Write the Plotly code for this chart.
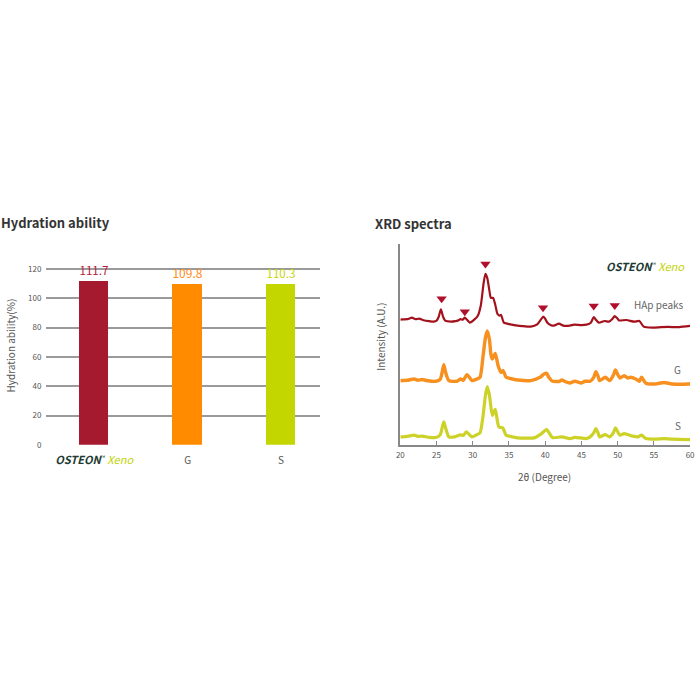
import plotly.graph_objects as go

# ---------------- Data ----------------
# Hydration ability
bar_categories = ["OSTEON Xeno", "G", "S"]
hydration_values = [111.7, 109.8, 110.3]
hydration_labels = ["111.7", "109.8", "110.3"]

# XRD spectra: 2-theta (degrees) and relative intensity (A.U.)
hap_theta = [20.0, 20.3, 21.0, 21.6, 22.1, 22.6, 23.2, 24.0, 24.6, 25.0,
             25.3, 25.6, 25.9, 26.2, 27.0, 27.6, 28.0, 28.3, 28.6, 28.9,
             29.2, 29.6, 30.2, 30.7, 31.1, 31.5, 31.75, 32.0, 32.3, 32.5,
             32.8, 33.1, 33.4, 33.7, 33.9, 34.3, 35.2, 36.2, 37.0, 38.0,
             38.9, 39.4, 39.7, 40.0, 40.3, 40.8, 41.2, 41.9, 42.5, 43.4,
             44.0, 45.0, 45.7, 46.3, 46.7, 47.0, 47.4, 48.2, 48.8, 49.3,
             49.6, 50.0, 50.2, 51.2, 52.3, 53.0, 53.6, 54.8, 56.0, 57.0,
             58.5, 60.0]
hap_intensity = [8, 8.3, 8.5, 10, 8.5, 9, 7.5, 6.5, 6, 7,
                 11, 18.3, 11, 7, 6, 6.5, 7.3, 8.5, 8, 10,
                 8, 5, 8, 12, 22, 45, 54.3, 50, 37, 30,
                 30, 23.3, 14, 12, 13, 5, 3.3, 2, 1.5, 1,
                 3.3, 8, 11, 9, 5, 2.5, 2, 4, 2, 2,
                 3, 2.5, 3, 5, 10.7, 8, 5, 6.7, 6, 9,
                 11.7, 9, 7.3, 7.7, 6, 6.7, 1, 0, 0.5, 0.7,
                 0.5, 1.7]

g_theta = [20.0, 20.3, 21.0, 21.9, 22.4, 23.0, 23.8, 24.9, 25.5, 25.8,
           26.0, 26.25, 26.7, 27.8, 28.3, 28.7, 29.2, 29.9, 30.5, 31.0,
           31.4, 31.75, 32.0, 32.3, 32.5, 32.7, 33.1, 33.5, 33.9, 34.2,
           34.6, 35.5, 36.2, 38.0, 39.3, 39.8, 40.2, 40.5, 41.0, 42.0,
           42.3, 42.8, 43.4, 44.1, 45.0, 45.5, 46.2, 46.7, 47.0, 47.3,
           47.5, 48.3, 48.9, 49.4, 49.7, 50.0, 50.3, 50.9, 51.4, 51.8,
           52.5, 53.0, 53.3, 53.9, 55.2, 56.4, 57.5, 59.8, 60.0]
g_intensity = [3.5, 3.7, 4, 5.3, 4, 4.7, 3.5, 3, 5, 13,
               19.7, 12, 3.7, 3, 5.3, 4, 9.7, 3.7, 5, 7,
               27, 47, 53.7, 45, 30.3, 25.3, 31, 18.7, 12, 13.7,
               7, 5.3, 4.3, 3.7, 7, 10, 11, 7, 3, 3,
               4.3, 2.5, 1.3, 3, 1.3, 3, 3, 7, 12.7, 8,
               3.7, 7, 3.7, 9, 14.3, 10, 6.3, 8.7, 6.3, 7,
               5.3, 3, 7, 1, 0.3, 1.7, 0.3, 0.3, 0.5]

s_theta = [20.0, 20.3, 21.0, 21.9, 22.4, 23.0, 24.0, 24.9, 25.5, 25.8,
           26.0, 26.25, 26.7, 27.5, 28.3, 28.7, 29.1, 29.9, 30.5, 31.0,
           31.4, 31.75, 32.0, 32.3, 32.7, 33.1, 33.6, 34.15, 34.6, 35.5,
           36.2, 38.5, 39.4, 40.2, 41.0, 42.3, 43.4, 44.1, 45.7, 46.2,
           46.7, 47.0, 47.3, 47.5, 48.3, 48.9, 49.4, 49.7, 50.3, 50.9,
           52.1, 52.8, 53.3, 53.9, 55.2, 56.4, 57.5, 59.8, 60.0]
s_intensity = [3, 3, 3.5, 4.7, 3.5, 3.7, 2.5, 2.3, 5, 13,
               18, 12, 3, 3, 5, 4.5, 8, 3, 5, 7,
               23, 45, 53.7, 45, 24.7, 30.7, 13, 12, 4.7, 3,
               2, 2, 5.7, 10.3, 2.3, 3, 1.3, 2.5, 1.3, 3,
               7, 11.3, 7, 3, 5.3, 3, 7, 12, 4.7, 6.3,
               3.7, 3, 4.7, 1.3, 0.7, 1.3, 0.7, 0.3, 0.3]

hap_peak_theta = [25.7, 28.9, 31.75, 39.7, 46.7, 49.6]
hap_peak_level = [29, 16, 64, 20, 21.7, 22.3]

xrd_ticks = [20, 25, 30, 35, 40, 45, 50, 55, 60]
hydration_ticks = [0, 20, 40, 60, 80, 100, 120]

# ---------------- Style ----------------
FONT = "Noto Sans CJK KR"
bar_colors = ["#A51A2E", "#FF8C00", "#C4D600"]
label_colors = ["#B8173B", "#FF8C1A", "#C4D600"]
hap_color = "#A3121C"
g_color = "#F7901E"
s_color = "#CCD227"
marker_color = "#B0102C"
offsets = {"hap": 122, "g": 65, "s": 9}

logo_html = ("<b><i><span style='color:#1d3a33;font-size:11px'>OSTEON</span></i></b>"
             "<sup><span style='font-size:6px;color:#1d3a33'>™</span></sup>"
             "<i><span style='color:#bfd200;font-size:11px'> Xeno</span></i>")

fig = go.Figure()

# Bar chart
fig.add_trace(go.Bar(
    x=list(range(len(bar_categories))), y=hydration_values,
    marker=dict(color=bar_colors, line=dict(width=0)),
    width=0.317,
    text=hydration_labels, textposition="outside",
    textfont=dict(color=label_colors, size=15, family=FONT),
    cliponaxis=False, xaxis="x", yaxis="y", showlegend=False,
))

# XRD spectra
for th, inten, key, col, w in [
    (s_theta, s_intensity, "s", s_color, 3.2),
    (g_theta, g_intensity, "g", g_color, 3.4),
    (hap_theta, hap_intensity, "hap", hap_color, 2.2),
]:
    fig.add_trace(go.Scatter(
        x=th, y=[v + offsets[key] for v in inten], mode="lines",
        line=dict(color=col, width=w, shape="spline", smoothing=0.6),
        xaxis="x2", yaxis="y2", showlegend=False,
    ))

fig.add_trace(go.Scatter(
    x=hap_peak_theta, y=[v + offsets["hap"] for v in hap_peak_level],
    mode="markers", marker=dict(symbol="triangle-down", size=9, color=marker_color),
    xaxis="x2", yaxis="y2", showlegend=False, cliponaxis=False,
))

grid_col = "#9a9a9a"
y_top = 125
top_px = 448 - 177 * y_top / 120
fig.update_layout(
    width=700, height=700,
    margin=dict(l=0, r=0, t=0, b=0),
    paper_bgcolor="white", plot_bgcolor="white",
    font=dict(family=FONT, color="#555555"),
    xaxis=dict(domain=[43 / 700, 320 / 700], range=[-0.51, 2.415],
               tickvals=list(range(len(bar_categories))),
               ticktext=[logo_html, bar_categories[1], bar_categories[2]],
               tickfont=dict(size=10, color="#555555"), ticklabelstandoff=8,
               showgrid=False, zeroline=False, showline=False, ticks=""),
    yaxis=dict(domain=[1 - 448 / 700, 1 - top_px / 700], range=[0, y_top],
               tickvals=hydration_ticks,
               showgrid=True, gridcolor=grid_col, gridwidth=1.5,
               zeroline=False, showline=False, ticks="", ticklabelstandoff=4,
               tickfont=dict(size=8, color="#555555")),
    xaxis2=dict(domain=[401.5 / 700, 695 / 700], range=[20, 60],
                tickvals=xrd_ticks, ticks="inside", ticklen=4, tickcolor="#888888",
                showline=True, linecolor="#888888", linewidth=1.5,
                showgrid=False, zeroline=False, ticklabelstandoff=2,
                tickfont=dict(size=8, color="#555555"), anchor="y2"),
    yaxis2=dict(domain=[1 - 448 / 700, 1 - 246 / 700], range=[4, 206],
                showticklabels=False, ticks="", showline=True,
                linecolor="#888888", linewidth=1.5,
                showgrid=False, zeroline=False, anchor="x2"),
    bargap=0,
)

ann = [
    dict(text="<b>Hydration ability</b>", x=-5 / 700, y=1 - 224 / 700, xref="paper", yref="paper",
         xanchor="left", yanchor="middle", showarrow=False,
         font=dict(size=13, color="#333333", family=FONT)),
    dict(text="<b>XRD spectra</b>", x=374 / 700, y=1 - 225 / 700, xref="paper", yref="paper",
         xanchor="left", yanchor="middle", showarrow=False,
         font=dict(size=13, color="#333333", family=FONT)),
    dict(text="Hydration ability(%)", x=7 / 700, y=1 - 348 / 700, xref="paper", yref="paper",
         textangle=-90, xanchor="center", yanchor="middle", showarrow=False,
         font=dict(size=10, color="#555555", family=FONT)),
    dict(text="Intensity (A.U.)", x=381 / 700, y=1 - 339 / 700, xref="paper", yref="paper",
         textangle=-90, xanchor="center", yanchor="middle", showarrow=False,
         font=dict(size=10, color="#555555", family=FONT)),
    dict(text="2θ (Degree)", x=548 / 700, y=1 - 480 / 700, xref="paper", yref="paper",
         xanchor="center", yanchor="middle", showarrow=False,
         font=dict(size=10, color="#555555", family=FONT)),
    dict(text="HAp peaks", x=55.77, y=145, xref="x2", yref="y2", showarrow=False,
         font=dict(size=10, color="#666666", family=FONT)),
    dict(text="G", x=58.32, y=80.3, xref="x2", yref="y2", showarrow=False,
         font=dict(size=10, color="#666666", family=FONT)),
    dict(text="S", x=58.32, y=23.7, xref="x2", yref="y2", showarrow=False,
         font=dict(size=10, color="#666666", family=FONT)),
    dict(text=logo_html, x=53.85, y=184, xref="x2", yref="y2", showarrow=False,
         font=dict(size=10, family=FONT)),
]
fig.update_layout(annotations=ann)

fig.write_html("out.html")
